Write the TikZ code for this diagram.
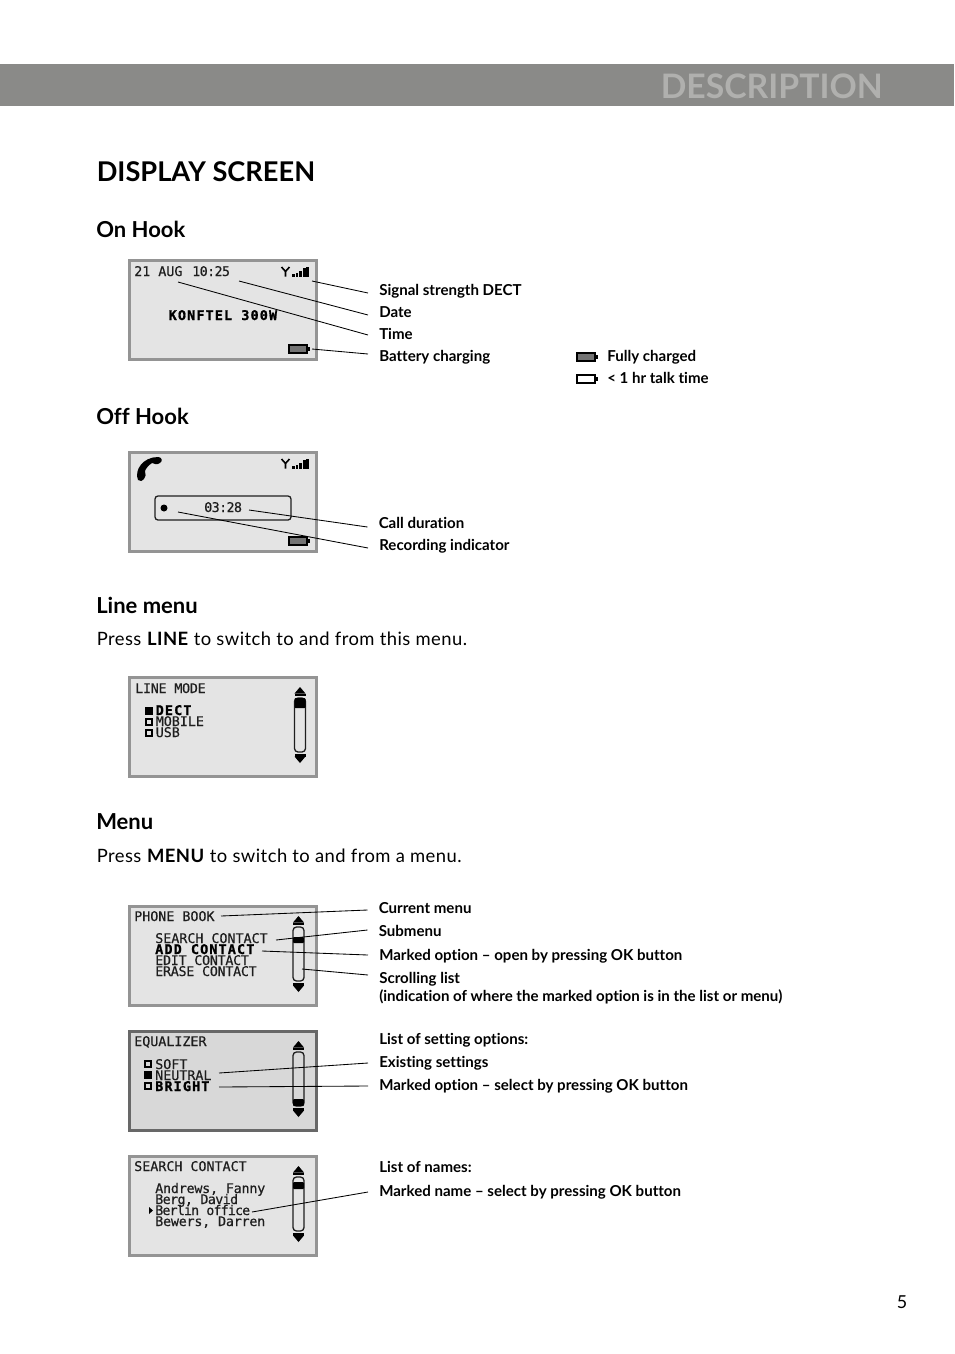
\documentclass[tikz,border=0pt]{standalone}
\usepackage{fontspec}
\setmainfont[Ligatures=NoCommon]{Lato}
\newfontfamily\lcdfamily[FakeBold=0.5]{DejaVu Sans Mono}
\newfontfamily\lcdheavy[FakeBold=1.2,LetterSpace=9]{DejaVu Sans Mono Bold}
\usetikzlibrary{positioning,calc}
\definecolor{bandgray}{RGB}{138,138,136}
\definecolor{bandtext}{RGB}{176,176,174}
\definecolor{framegray}{RGB}{148,148,148}
\definecolor{lcdgray}{RGB}{228,228,228}
\definecolor{lcddark}{RGB}{216,216,216}
\definecolor{inkgray}{RGB}{30,30,30}
\def\px{0.75pt}
\tikzset{
    lcdscreen/.style={draw=framegray, fill=lcdgray, line width=3*\px, minimum width=186.5*\px, minimum height=99*\px, inner sep=0pt},
    lcdtext/.style={font=\lcdfamily\fontsize{10pt}{11pt}\selectfont, text=inkgray, anchor=base west, inner sep=0pt},
    lcdfit/.style={lcdtext, font=\lcdfamily\fontsize{10pt}{11pt}\selectfont\addfontfeature{LetterSpace=#1}},
    lcdbold/.style={lcdtext, font=\lcdheavy\fontsize{10pt}{11pt}\selectfont, text=black},
    heading/.style={font=\bfseries\fontsize{16.5pt}{20pt}\selectfont, anchor=west, inner sep=0pt},
    bodytext/.style={font=\fontsize{13.8pt}{16pt}\selectfont\addfontfeature{LetterSpace=2.5}, anchor=west, inner sep=0pt},
    calllabel/.style={font=\bfseries\fontsize{11.3pt}{13pt}\selectfont, anchor=west, inner xsep=11*\px, inner ysep=0pt, text height=8pt, text depth=0.5pt},
    leader/.style={draw=black, line width=0.85*\px},
}
% scroll bar: centre x, bar top, thumb top, thumb bottom
\newcommand{\lcdscroll}[4]{
    \fill[black] (#1-5.5,#2-4.5) -- (#1,#2-11) -- (#1+5.5,#2-4.5) -- cycle;
    \fill[black] (#1-5.5,#2-4.5) rectangle (#1+5.5,#2-2);
    \draw[draw=inkgray, line width=1.3*\px, rounded corners=3.5*\px] (#1-5.5,#2) rectangle (#1+5.5,#2+54);
    \fill[black, rounded corners=1*\px] (#1-5.5,#3) rectangle (#1+5.5,#4);
    \fill[black] (#1-5.5,#2+58.5) -- (#1,#2+65) -- (#1+5.5,#2+58.5) -- cycle;
    \fill[black] (#1-5.5,#2+56) rectangle (#1+5.5,#2+58.5);
}
% signal icon: left x, bottom y
\newcommand{\lcdsignal}[2]{
    \draw[black, line width=1.6*\px] (#1+4.5,#2) -- (#1+4.5,#2-6) (#1+0.5,#2-9.5) -- (#1+4.5,#2-5) -- (#1+8.5,#2-9.5);
    \foreach \barx/\barh in {11/2.5,14.6/4,18.2/6,21.8/9,25.4/10}
        \fill[black] (#1+\barx,#2) rectangle (#1+\barx+2.8,#2-\barh);
}
% battery icon: left x, top y, fill colour
\newcommand{\lcdbattery}[3]{
    \draw[draw=black, fill=#3, line width=1.4*\px] (#1,#2) rectangle (#1+18,#2+8);
    \fill[black] (#1+18,#2+2) rectangle (#1+20.5,#2+6);
}
% option box: left x, top y, fill colour
\newcommand{\lcdbox}[3]{
    \draw[draw=black, fill=#3, line width=1.4*\px] (#1,#2) rectangle (#1+6,#2+6);
}
\begin{document}
\begin{tikzpicture}[x=0.75pt, y=-0.75pt]
    \useasboundingbox (0,0) rectangle (954,1354);
    \fill[white] (0,0) rectangle (954,1354);

    % Page band
    \fill[bandgray] (0,64) rectangle (954,106);
    \node[font=\bfseries\fontsize{25.3pt}{30pt}\selectfont, text=bandtext, anchor=east, inner sep=0pt] (pagetitle) at (883,86) {DESCRIPTION};
    \node[font=\bfseries\fontsize{20.4pt}{25pt}\selectfont, anchor=west, inner sep=0pt] (sectitle) at (96.5,172) {DISPLAY SCREEN};

    % On Hook
    \node[heading] (onhook) at (96,229) {On Hook};
    \node[lcdscreen] (scron) at (222.75,310) {};
    \node[lcdtext] (scron1) at (134,276) {21 AUG};
    \node[lcdfit=-4.5] (scron2) at (192,276) {10:25};
    \node[lcdbold] (scron3) at (168.5,320) {KONFTEL 300W};
    \lcdsignal{281}{276.5}
    \lcdbattery{289}{345}{black!55}
    \coordinate (tipsig) at (312,281);
    \coordinate (tipdate) at (239,281);
    \coordinate (tiptime) at (178,282);
    \coordinate (tipbat) at (312,349);
    \node[calllabel] (lbsig) at (368,290) {Signal strength DECT};
    \node[calllabel] (lbdate) at (368,312) {Date};
    \node[calllabel] (lbtime) at (368,334) {Time};
    \node[calllabel] (lbbat) at (368,356) {Battery charging};
    \draw[leader] (tipsig) -- ($(lbsig.west)+(0,3)$);
    \draw[leader] (tipdate) -- ($(lbdate.west)+(0,3)$);
    \draw[leader] (tiptime) -- ($(lbtime.west)+(0,1)$);
    \draw[leader] (tipbat) -- ($(lbbat.west)+(0,-2)$);
    \lcdbattery{577}{353}{black!55}
    \lcdbattery{577}{375}{white}
    \node[calllabel, inner xsep=0pt] (lbfull) at (607,356) {Fully charged};
    \node[calllabel, inner xsep=0pt] (lblow) at (607,378) {< 1 hr talk time};

    % Off Hook
    \node[heading] (offhook) at (96,416) {Off Hook};
    \node[lcdscreen] (scroff) at (222.75,502) {};
    \fill[black] (138,480) .. controls (134,470) and (143,457) .. (158,457) .. controls (162,457) and (163,461) .. (160,463) .. controls (157,465) and (154,464) .. (152,463) .. controls (149,465) and (146,468) .. (145,471) .. controls (146,474) and (146,477) .. (144,479) .. controls (143,481) and (140,482) .. (138,480) -- cycle;
    \lcdsignal{281}{468.5}
    \draw[draw=inkgray, line width=1.3*\px, rounded corners=3*\px] (155,496) rectangle (291,520);
    \fill[black] (164,508) circle (3.5);
    \node[lcdfit=-4.5] (scroff1) at (204,512) {03:28};
    \lcdbattery{289}{537}{black!55}
    \coordinate (tipcall) at (249,510);
    \coordinate (tiprec) at (178,512);
    \node[calllabel] (lbcall) at (367.5,523) {Call duration};
    \node[calllabel] (lbrec) at (368,545) {Recording indicator};
    \draw[leader] (tipcall) -- ($(lbcall.west)+(0,4)$);
    \draw[leader] (tiprec) -- ($(lbrec.west)+(0,3)$);

    % Line menu
    \node[heading] (linehead) at (96,605) {Line menu};
    \node[bodytext] (linebody) at (96.5,639) {Press \textbf{LINE} to switch to and from this menu.};
    \node[lcdscreen] (scrline) at (222.75,727) {};
    \node[lcdfit=-2] (scrline1) at (135,693) {LINE MODE};
    \lcdbox{146}{708}{black}
    \lcdbox{146}{719}{lcdgray}
    \lcdbox{146}{730}{lcdgray}
    \node[lcdbold] (scrline2) at (155.5,715) {DECT};
    \node[lcdtext] (scrline3) at (155.5,726) {MOBILE};
    \node[lcdtext] (scrline4) at (155.5,737) {USB};
    \lcdscroll{300}{698}{698}{708}

    % Menu
    \node[heading] (menuhead) at (96,822) {Menu};
    \node[bodytext] (menubody) at (96.5,856) {Press \textbf{MENU} to switch to and from a menu.};

    % Phone book screen
    \node[lcdscreen] (scrbook) at (222.75,956) {};
    \node[lcdtext] (scrbook1) at (134,921) {PHONE BOOK};
    \node[lcdtext] (scrbook2) at (155,943) {SEARCH CONTACT};
    \node[lcdbold] (scrbook3) at (155,954) {ADD CONTACT};
    \node[lcdfit=-2] (scrbook4) at (155,965) {EDIT CONTACT};
    \node[lcdfit=-2] (scrbook5) at (155,976) {ERASE CONTACT};
    \lcdscroll{298.5}{927}{937}{943}
    \coordinate (tipcur) at (221,916);
    \coordinate (tipsub) at (276,940);
    \coordinate (tipmark) at (262,951);
    \coordinate (tipscroll) at (302,969);
    \node[calllabel] (lbcur) at (367.5,908) {Current menu};
    \node[calllabel] (lbsub) at (367.5,931) {Submenu};
    \node[calllabel] (lbmark) at (368,955) {Marked option -- open by pressing OK button};
    \node[calllabel] (lbscroll) at (368,978) {Scrolling list};
    \node[calllabel] (lbwhere) at (368,996) {(indication of where the marked option is in the list or menu)};
    \draw[leader] (tipcur) -- ($(lbcur.west)+(0,2)$);
    \draw[leader] (tipsub) -- ($(lbsub.west)+(0,-1)$);
    \draw[leader] (tipmark) -- (lbmark.west);
    \draw[leader] (tipscroll) -- ($(lbscroll.west)+(0,-3)$);

    % Equalizer screen
    \node[lcdscreen, fill=lcddark, draw=framegray!70!black] (screq) at (222.75,1081) {};
    \node[lcdtext] (screq1) at (134,1046) {EQUALIZER};
    \lcdbox{145}{1061}{lcddark}
    \lcdbox{145}{1072}{black}
    \lcdbox{145}{1083}{lcddark}
    \node[lcdtext] (screq2) at (155,1069) {SOFT};
    \node[lcdtext] (screq3) at (155,1080) {NEUTRAL};
    \node[lcdbold] (screq4) at (155,1091) {BRIGHT};
    \lcdscroll{298.5}{1052}{1099}{1106}
    \coordinate (tipexist) at (219,1073);
    \coordinate (tipselect) at (219,1087);
    \node[calllabel] (lblist) at (368,1039) {List of setting options:};
    \node[calllabel] (lbexist) at (368,1062) {Existing settings};
    \node[calllabel] (lbselect) at (368,1085) {Marked option -- select by pressing OK button};
    \draw[leader] (tipexist) -- ($(lbexist.west)+(0,1)$);
    \draw[leader] (tipselect) -- ($(lbselect.west)+(0,1)$);

    % Search contact screen
    \node[lcdscreen] (scrsearch) at (222.75,1206) {};
    \node[lcdtext] (scrsearch1) at (134,1171) {SEARCH CONTACT};
    \node[lcdfit=-1.5] (scrsearch2) at (155,1193) {Andrews, Fanny};
    \node[lcdfit=-4.5] (scrsearch3) at (155,1204) {Berg, David};
    \node[lcdfit=-6.4] (scrsearch4) at (155,1215) {Berlin office};
    \node[lcdfit=-1.5] (scrsearch5) at (155,1226) {Bewers, Darren};
    \fill[black] (149,1207) -- (153,1210.5) -- (149,1214) -- cycle;
    \lcdscroll{298.5}{1177}{1182}{1189}
    \coordinate (tipname) at (252,1212);
    \node[calllabel] (lbnames) at (368,1167) {List of names:};
    \node[calllabel] (lbname) at (368,1191) {Marked name -- select by pressing OK button};
    \draw[leader] (tipname) -- ($(lbname.west)+(0,1)$);

    % Page number
    \node[font=\fontsize{13.4pt}{16pt}\selectfont, inner sep=0pt] (pagenum) at (902,1302) {5};
\end{tikzpicture}
\end{document}
